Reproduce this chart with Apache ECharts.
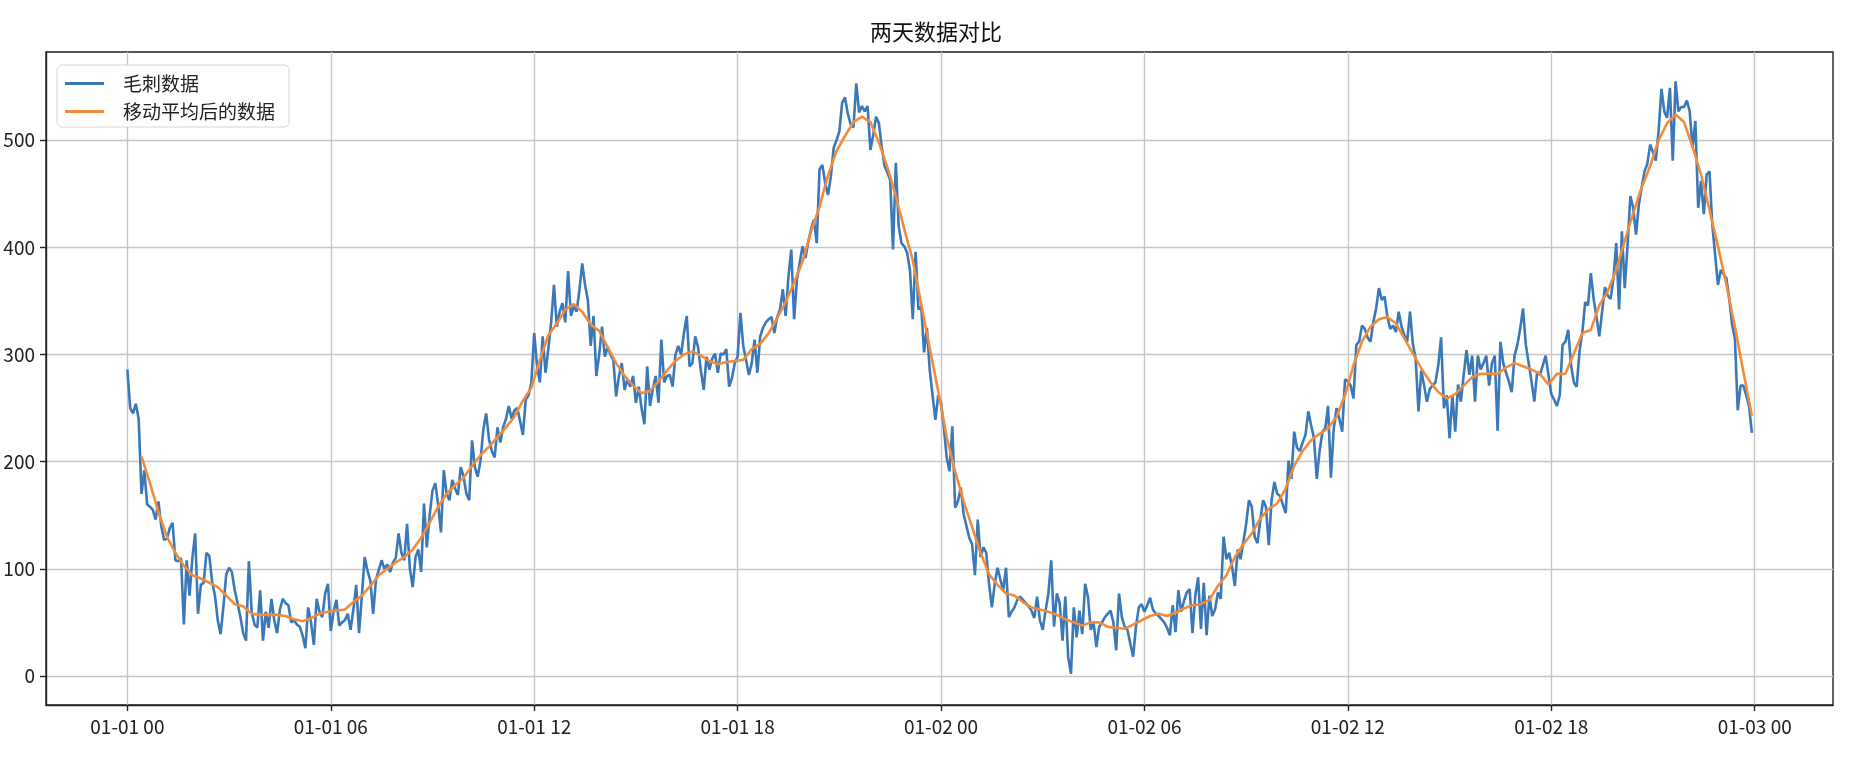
<!DOCTYPE html>
<html>
<head>
<meta charset="utf-8">
<title>两天数据对比</title>
<script src="https://cdn.jsdelivr.net/npm/echarts@6/dist/echarts.min.js"></script>
<style>
  html, body { margin: 0; padding: 0; background: #fff; }
  #main { width: 1852px; height: 762px; }
</style>
</head>
<body>
<div id="main"></div>
<script>
// raw readings, one every 5 minutes from 01-01 00:00
var rawValues = [
  286,250,245,254,240,170,192,160,158,155,146,163,
  140,127,128,138,143,108,107,110,48,108,75,110,
  133,58,85,87,115,112,88,75,52,39,65,95,
  101,97,80,68,55,40,33,107,60,48,45,80,
  33,60,45,72,52,40,62,72,68,66,50,52,
  48,46,38,26,64,50,29,72,60,55,77,86,
  42,60,71,47,50,52,58,43,62,85,40,75,
  111,98,89,58,90,99,108,100,104,97,106,110,
  133,115,108,142,100,83,111,118,97,161,120,150,
  173,180,160,134,192,170,164,183,175,169,195,186,
  170,164,220,195,186,201,230,245,221,210,204,232,
  218,232,240,252,240,248,250,238,225,258,262,274,
  320,290,274,317,283,305,330,365,326,340,348,330,
  378,336,345,340,360,385,365,351,308,336,280,300,
  326,298,307,300,295,261,280,292,267,277,270,280,
  255,270,250,235,289,252,268,280,255,314,274,280,
  281,270,300,308,300,320,336,289,292,317,307,285,
  267,298,286,296,301,283,301,300,305,270,278,292,
  298,339,308,295,281,292,314,283,317,325,330,333,
  335,320,335,342,361,336,373,398,333,370,386,401,
  390,405,417,426,404,473,477,460,449,466,493,500,
  508,535,540,525,515,512,553,526,532,527,532,491,
  505,522,516,494,476,470,463,398,479,420,404,401,
  395,379,333,396,342,345,302,325,286,262,239,262,
  255,232,204,191,233,157,163,176,151,140,129,123,
  94,146,111,120,115,86,64,86,101,90,80,101,
  55,60,64,71,74,71,68,65,61,54,74,52,
  43,61,77,108,46,77,68,33,74,18,2,64,
  36,61,39,86,74,43,50,27,46,50,55,58,
  61,50,24,77,55,46,43,30,18,46,64,67,
  60,66,73,62,58,56,53,50,45,38,66,41,
  80,60,70,78,81,40,75,92,44,87,38,75,
  56,62,78,72,130,109,115,102,84,118,109,125,
  142,164,158,130,124,145,164,158,122,164,181,170,
  168,160,152,201,184,228,213,210,218,225,247,234,
  222,184,210,228,231,252,185,231,250,240,228,277,
  275,271,259,309,312,327,324,316,312,330,343,362,
  351,354,335,324,327,321,340,326,318,312,340,310,
  296,247,285,271,256,268,271,274,290,316,250,262,
  222,262,228,272,256,281,304,281,299,256,299,286,
  292,299,271,292,299,229,312,292,283,275,265,299,
  309,324,343,309,292,275,256,284,281,290,299,281,
  263,258,252,262,309,312,323,290,274,270,303,321,
  349,346,376,352,335,317,340,363,355,352,371,404,
  342,415,362,402,448,437,412,440,456,471,478,496,
  489,481,509,548,527,521,549,481,555,527,531,531,
  537,527,493,518,437,462,431,468,471,421,393,365,
  379,375,371,352,328,315,248,271,271,262,252,227
];
var rawStartMin = 0;
var rawStepMin = 5;

// moving average, read every 15 minutes from 01-01 00:25
var smoothValues = [
  205,180,153,130,115,103,94,91,87,83,
  75,67,65,58,57,57,57,56,53,51,
  54,58,60,61,62,69,75,84,94,100,
  106,111,118,129,143,158,170,178,185,196,
  206,214,223,232,242,257,269,295,318,329,
  342,347,340,328,322,307,292,280,271,264,
  266,275,285,294,300,303,299,294,291,293,
  294,295,305,310,320,334,349,367,387,415,
  438,467,490,504,517,522,517,498,475,448,
  417,388,347,306,266,223,191,163,139,115,
  95,85,77,75,69,64,62,60,57,53,
  50,47,50,50,46,45,44,48,52,56,
  58,56,59,63,66,67,71,84,94,111,
  123,133,147,156,161,175,196,210,220,226,
  231,242,262,290,312,326,333,335,329,315,
  301,287,275,265,259,263,271,279,282,282,
  282,288,292,289,286,282,272,282,282,301,
  320,323,346,359,379,406,432,456,476,500,
  516,524,517,494,468,435,401,365,326,284,
  243
];
var smoothStartMin = 25;
var smoothStepMin = 15;

var xTickHours = [0, 6, 12, 18, 24, 30, 36, 42, 48];
var xTickLabels = ['01-01 00', '01-01 06', '01-01 12', '01-01 18', '01-02 00',
                   '01-02 06', '01-02 12', '01-02 18', '01-03 00'];
var yTicks = [0, 100, 200, 300, 400, 500];

var titleText = '两天数据对比';
var rawName = '毛刺数据';
var smoothName = '移动平均后的数据';

var FONT = '"Noto Sans CJK SC", "Noto Sans", sans-serif';
var blue = '#3a78b8';
var orange = '#f48b3a';

var rawData = rawValues.map(function (v, i) {
    return [(rawStartMin + i * rawStepMin) / 60, v];
});
var smoothData = smoothValues.map(function (v, i) {
    return [(smoothStartMin + i * smoothStepMin) / 60, v];
});

var myChart = echarts.init(document.getElementById('main'));

myChart.setOption({
    animation: false,
    textStyle: { fontFamily: FONT },
    title: {
        text: titleText,
        left: 870,
        top: 21,
        padding: 0,
        textStyle: { fontFamily: FONT, fontSize: 22, fontWeight: 'normal', color: '#111' }
    },
    legend: {
        orient: 'vertical',
        left: 57,
        top: 65,
        icon: 'rect',
        itemWidth: 39,
        itemHeight: 3,
        itemGap: 9,
        padding: [9, 14, 6, 8],
        backgroundColor: '#fff',
        borderColor: '#d6d6d6',
        borderWidth: 1,
        borderRadius: 5,
        textStyle: { fontFamily: FONT, fontSize: 19, lineHeight: 19, color: '#222', padding: [0, 0, 0, 14] },
        data: [rawName, smoothName]
    },
    grid: {
        left: 46,
        right: 19,
        top: 52,
        bottom: 57,
        show: true,
        borderColor: '#222',
        borderWidth: 1.4,
        containLabel: false
    },
    xAxis: {
        type: 'value',
        min: -2.4,
        max: 50.31,
        axisLine: { show: true, onZero: false, lineStyle: { color: '#222', width: 1.4 } },
        axisTick: { show: true, length: 6, customValues: xTickHours, lineStyle: { color: '#222', width: 1.4 } },
        axisLabel: {
            customValues: xTickHours,
            margin: 12,
            fontSize: 19,
            color: '#222',
            fontFamily: FONT,
            formatter: function (v) {
                var k = xTickHours.indexOf(v);
                return k >= 0 ? xTickLabels[k] : '';
            }
        },
        splitLine: { show: true, lineStyle: { color: '#c6c6c6', width: 1.4 } }
    },
    yAxis: {
        type: 'value',
        min: -27.1,
        max: 582.4,
        axisLine: { show: true, onZero: false, lineStyle: { color: '#222', width: 1.4 } },
        axisTick: { show: true, length: 6, customValues: yTicks, lineStyle: { color: '#222', width: 1.4 } },
        axisLabel: { customValues: yTicks, margin: 11, fontSize: 19, color: '#222', fontFamily: FONT },
        splitLine: { show: true, lineStyle: { color: '#c6c6c6', width: 1.4 } }
    },
    series: [
        {
            name: rawName,
            type: 'line',
            data: rawData,
            symbol: 'none',
            showSymbol: false,
            color: blue,
            lineStyle: { width: 2.6, color: blue },
            z: 2
        },
        {
            name: smoothName,
            type: 'line',
            data: smoothData,
            symbol: 'none',
            showSymbol: false,
            color: orange,
            lineStyle: { width: 2.6, color: orange },
            z: 3
        }
    ]
});
</script>
</body>
</html>
